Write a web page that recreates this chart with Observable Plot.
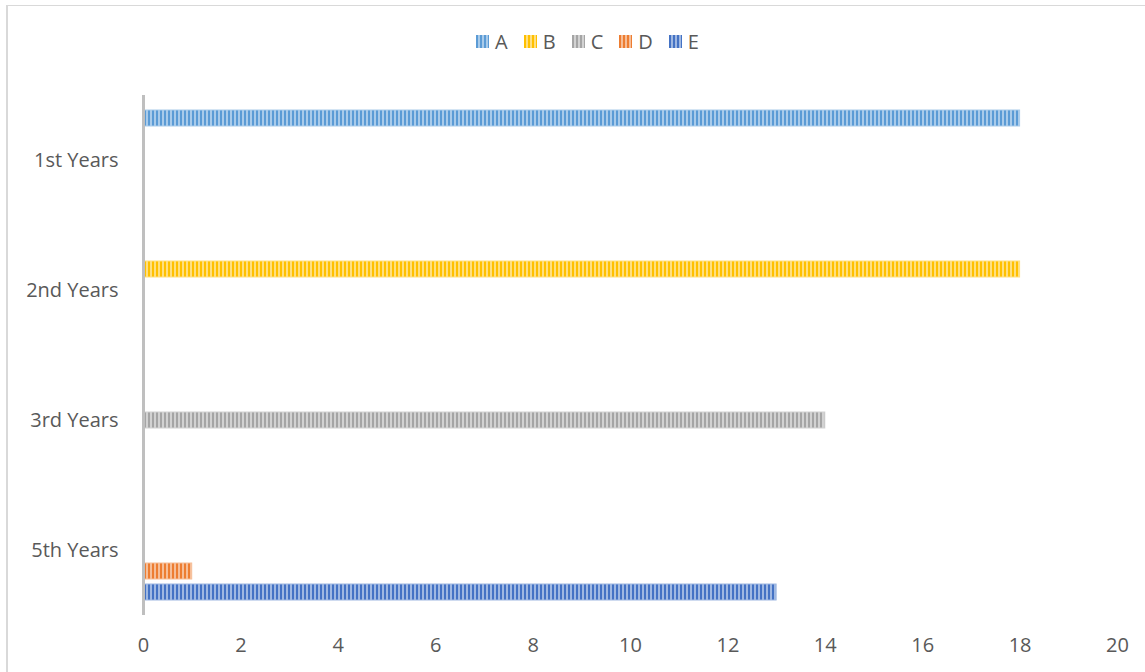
<!DOCTYPE html>
<html>
<head>
<meta charset="utf-8">
<script src="https://cdn.jsdelivr.net/npm/d3@7"></script>
<script src="https://cdn.jsdelivr.net/npm/@observablehq/plot@0.6"></script>
<style>
  html, body { margin: 0; padding: 0; background: #fff; overflow: hidden; }
  #wrap { position: relative; width: 1145px; height: 672px; overflow: hidden; font-family: "Open Sans", sans-serif; }
  #frame { position: absolute; left: 6px; top: 5px; width: 1200px; height: 720px; border-left: 2px solid #d9d9d9; border-top: 1.5px solid #d9d9d9; box-sizing: border-box; }
  #legend { position: absolute; top: 28px; left: 30px; width: 1115px; display: flex; justify-content: center; gap: 16px; font-size: 20px; color: #595959; }
  #legend .item { display: flex; align-items: center; gap: 6px; }
  #chart { position: absolute; left: 0; top: 0; }
</style>
</head>
<body>
<div id="wrap">
  <svg id="defs" width="0" height="0" style="position:absolute"></svg>
  <div id="frame"></div>
  <div id="chart"></div>
  <div id="legend"></div>
</div>
<script>
// Categories and series
const categories = ["1st Years", "2nd Years", "3rd Years", "5th Years"];
const seriesNames = ["A", "B", "C", "D", "E"];
const valuesA = [18, 0, 0, 0];
const valuesB = [0, 18, 0, 0];
const valuesC = [0, 0, 14, 0];
const valuesD = [0, 0, 0, 1];
const valuesE = [0, 0, 0, 13];
const xTicks = [0, 2, 4, 6, 8, 10, 12, 14, 16, 18, 20];

// Stripe colours: solid stripe and the paler stripe between
const colors = ["#5b9bd5", "#ffc000", "#a5a5a5", "#ed7d31", "#4472c4"];
const paleColors = ["#a9cbea", "#ffdf80", "#d2d2d2", "#f6be98", "#9fb8e2"];

const seriesValues = [valuesA, valuesB, valuesC, valuesD, valuesE];
const rows = [];
seriesNames.forEach((s, i) => {
  categories.forEach((c, j) => {
    const v = seriesValues[i][j];
    if (v > 0) rows.push({series: s, category: c, value: v});
  });
});

// Vertical stripe patterns, one per series
const defs = d3.select("#defs").append("defs");
seriesNames.forEach((s, i) => {
  const p = defs.append("pattern")
    .attr("id", "stripe-" + s)
    .attr("patternUnits", "userSpaceOnUse")
    .attr("width", 4).attr("height", 4);
  p.append("rect").attr("width", 4).attr("height", 4).attr("fill", paleColors[i]);
  p.append("rect").attr("width", 2).attr("height", 4).attr("fill", colors[i]);
});

const chart = Plot.plot({
  width: 1145,
  height: 672,
  marginTop: 95,
  marginBottom: 57,
  marginLeft: 143,
  marginRight: 28,
  style: {fontFamily: "'Open Sans', sans-serif", fontSize: "20px", color: "#595959", background: "transparent"},
  x: {domain: [0, 20], ticks: xTicks, tickSize: 0, tickPadding: 22, label: null},
  y: {domain: seriesNames, axis: null, paddingInner: 0.26, paddingOuter: 0.725},
  fy: {domain: categories, padding: 0, axis: "left", tickSize: 0, tickPadding: 25, label: null},
  facet: {data: rows, y: "category"},
  marks: [
    Plot.barX(rows, {
      x: "value",
      y: "series",
      fill: d => "url(#stripe-" + d.series + ")",
      stroke: d => paleColors[seriesNames.indexOf(d.series)],
      strokeWidth: 1
    }),
    // value axis baseline, repeated in every category band
    Plot.ruleX([0], {stroke: "#bfbfbf", strokeWidth: 3})
  ]
});
document.getElementById("chart").appendChild(chart);

// Legend with patterned swatches
const legend = d3.select("#legend");
seriesNames.forEach((s, i) => {
  const item = legend.append("div").attr("class", "item");
  const sw = item.append("svg").attr("width", 13).attr("height", 13);
  sw.append("rect").attr("width", 13).attr("height", 13).attr("fill", "url(#stripe-" + s + ")");
  item.append("span").text(s);
});
</script>
</body>
</html>
